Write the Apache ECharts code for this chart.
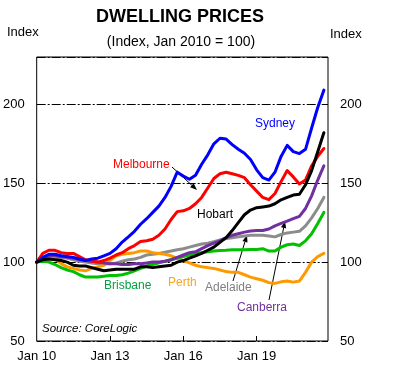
<!DOCTYPE html>
<html>
<head>
<meta charset="utf-8">
<script src="https://cdn.jsdelivr.net/npm/echarts@6/dist/echarts.min.js"></script>
<style>html,body{margin:0;padding:0;background:#fff}#c{width:400px;height:375px}</style>
</head>
<body>
<div id="c"></div>
<script>
// Quarterly observations (Jan, Apr, Jul, Oct)
const dates = ['2010-01','2010-04','2010-07','2010-10','2011-01','2011-04','2011-07','2011-10',
  '2012-01','2012-04','2012-07','2012-10','2013-01','2013-04','2013-07','2013-10',
  '2014-01','2014-04','2014-07','2014-10','2015-01','2015-04','2015-07','2015-10',
  '2016-01','2016-04','2016-07','2016-10','2017-01','2017-04','2017-07','2017-10',
  '2018-01','2018-04','2018-07','2018-10','2019-01','2019-04','2019-07','2019-10',
  '2020-01','2020-04','2020-07','2020-10','2021-01','2021-04','2021-07','2021-10'];

const sydney = [100,103,105,105,104,103.5,103,102, 101,102,102.5,104,105.5,108.5,112.7,116,
  119.5,124,127.5,131.5,135.5,141,148,157, 154.5,152.5,155,162,168,175,178.5,178,
  174.5,171.5,169,165,158.5,153.5,152,157, 167,174,170,168.8,171.5,185,198,209];
const melbourne = [100,105.5,107.5,107.5,106,105.5,105.5,103.5, 101.5,100.5,100,101,102.5,104.5,106,108.5,
  110.5,113,113.5,114.5,117,121,127,132, 132.5,134,137,141,147,153,156,157,
  156,155,153.5,149,145,141,139.6,143.5, 151,158,154,149.5,152,161,167,172];
const hobart = [100,101.5,102,101.5,101,100,98,97.5, 97.5,96.5,95.5,94.5,95,95.5,95.5,95.5,
  95.5,97,97,96.5,97,97.5,98,100, 101,102.5,104,105.5,107.5,109.5,112.5,115.5,
  120,125,130,133,134.5,135,135.5,137, 139.5,141,142.5,143,149,158,170,182];
const perth = [100,102,103,102,99,97,96,95, 94.5,96,97,98,101,104,105,105.5,
  106,107,107,106,105.5,105,104,102.5, 101,99.5,98,97,96.5,96,95,94,
  93.5,93.5,92,90.5,89.5,88.5,87,86.5, 87.5,88,87.3,88,93.5,100,103.5,105.5];
const brisbane = [100,100.5,100,98.5,96.5,95,94,92, 90.5,90.5,90.5,91,91.5,91.5,92,93,
  94.5,96,97.5,98.5,99.5,100.5,101.5,102.5, 103.5,104.5,105.5,106,106.5,107,107.4,107.5,
  107.8,107.8,107.8,108,108,108.5,107,107, 109.5,111,111.5,110.5,113.5,118,124.5,131.5];
const adelaide = [100,101.5,102.5,103,103,102.5,101.5,100.5, 100,99.5,99,99,99,99.5,100.5,101.5,
  102,103,104.5,105,105.5,106.3,107,107.8, 108.5,109.5,110.5,111.5,112,113,114,115,
  115.5,116,116.5,117,117,117,116.5,116, 117.5,118.5,119,119.5,123,128,134,141];
const canberra = [100,102.5,104,104,103.5,103,102.5,101.5, 101,100.5,100,99.5,99,99,98.5,98.5,
  99,99,99.5,100,100,100.5,101.5,103, 104.5,106,106.5,108.5,110.5,112,113.5,115.5,
  117,118,119,119.7,120,120,121,123, 124.5,126,127.5,129,134,142,152,161];

const yTicks = [50, 100, 150, 200];
const xTickYears = [2010, 2013, 2016, 2019];
const xTickLabels = ['Jan 10', 'Jan 13', 'Jan 16', 'Jan 19'];

const FONT = '"Liberation Sans", Arial, sans-serif';

function toYear(d) {
  const p = d.split('-');
  return (+p[0]) + (+p[1] - 1) / 12;
}
function pairs(vals) {
  return vals.map((v, i) => [toYear(dates[i]), v]);
}
function line(name, vals, color, w) {
  return {
    name: name, type: 'line', data: pairs(vals), showSymbol: false, symbol: 'none',
    lineStyle: { color: color, width: w || 3, join: 'round', cap: 'round' },
    itemStyle: { color: color }, silent: true, animation: false
  };
}
function arrow(x1, y1, x2, y2) {
  const dx = x2 - x1, dy = y2 - y1, L = Math.sqrt(dx * dx + dy * dy);
  const ux = dx / L, uy = dy / L, hl = 7, hw = 2.6;
  const bx = x2 - ux * hl, by = y2 - uy * hl;
  return [
    { type: 'line', shape: { x1: x1, y1: y1, x2: bx, y2: by }, style: { stroke: '#000', lineWidth: 1 }, silent: true },
    { type: 'polygon', shape: { points: [[x2, y2], [bx - uy * hw, by + ux * hw], [bx + uy * hw, by - ux * hw]] },
      style: { fill: '#000' }, silent: true }
  ];
}
function label(text, x, y, color, size, extra) {
  return Object.assign({
    type: 'text', x: x, y: y, silent: true,
    style: Object.assign({ text: text, fill: color, font: (size || 12) + 'px ' + FONT,
      textAlign: 'left', textVerticalAlign: 'middle' }, extra || {})
  });
}

const chart = echarts.init(document.getElementById('c'), null, { renderer: 'canvas' });
const yAxisBase = {
  type: 'value', min: 50, max: 230, interval: 50,
  axisLine: { show: false }, axisTick: { show: false },
  axisLabel: { customValues: yTicks, color: '#000', fontSize: 13, fontFamily: FONT, margin: 12 }
};
chart.setOption({
  animation: false,
  backgroundColor: '#fff',
  grid: { left: 33, right: 72, top: 57, bottom: 34, show: true, borderColor: '#000', borderWidth: 1, backgroundColor: 'transparent' },
  xAxis: {
    type: 'value', min: 2010, max: 2021.92,
    axisLine: { show: false },
    splitLine: { show: false },
    axisTick: { show: true, inside: true, length: 5, customValues: [2013, 2016, 2019], lineStyle: { color: '#000', width: 1 } },
    axisLabel: { customValues: xTickYears, color: '#000', fontSize: 13, fontFamily: FONT, margin: 9,
      formatter: v => xTickLabels[xTickYears.indexOf(Math.round(v))] || '' }
  },
  yAxis: [
    Object.assign({}, yAxisBase, { position: 'left',
      splitLine: { show: true, lineStyle: { color: '#000', width: 1, type: [9, 2, 2, 2] } } }),
    Object.assign({}, yAxisBase, { position: 'right', splitLine: { show: false } })
  ],
  series: [
    line('Adelaide', adelaide, '#8c8c8c'),
    line('Perth', perth, '#ff9900'),
    line('Brisbane', brisbane, '#00c000'),
    line('Canberra', canberra, '#7030a0'),
    line('Melbourne', melbourne, '#ff0000'),
    line('Sydney', sydney, '#0000ff'),
    line('Hobart', hobart, '#000000')
  ],
  graphic: [].concat(
    [
      label('DWELLING PRICES', 180, 17, '#000', 18, { font: 'bold 18px ' + FONT, textAlign: 'center' }),
      label('(Index, Jan 2010 = 100)', 181, 42, '#000', 14, { textAlign: 'center' }),
      label('Index', 7, 32, '#000', 13),
      label('Index', 330, 34, '#000', 13),
      label('Sydney', 255, 124, '#0000ff', 12),
      label('Melbourne', 113, 165, '#ff0000', 12),
      label('Hobart', 197, 215, '#000', 12),
      label('Brisbane', 104, 286, '#00a040', 12),
      label('Perth', 168, 283, '#f5a623', 12),
      label('Adelaide', 205, 288, '#808080', 12),
      label('Canberra', 237, 308, '#7030a0', 12),
      label('Source: CoreLogic', 42, 329, '#000', 12, { font: 'italic 11.5px ' + FONT })
    ],
    arrow(172, 167, 197, 190),
    arrow(233, 281, 247, 235),
    arrow(269, 300, 285, 221)
  )
});
</script>
</body>
</html>
